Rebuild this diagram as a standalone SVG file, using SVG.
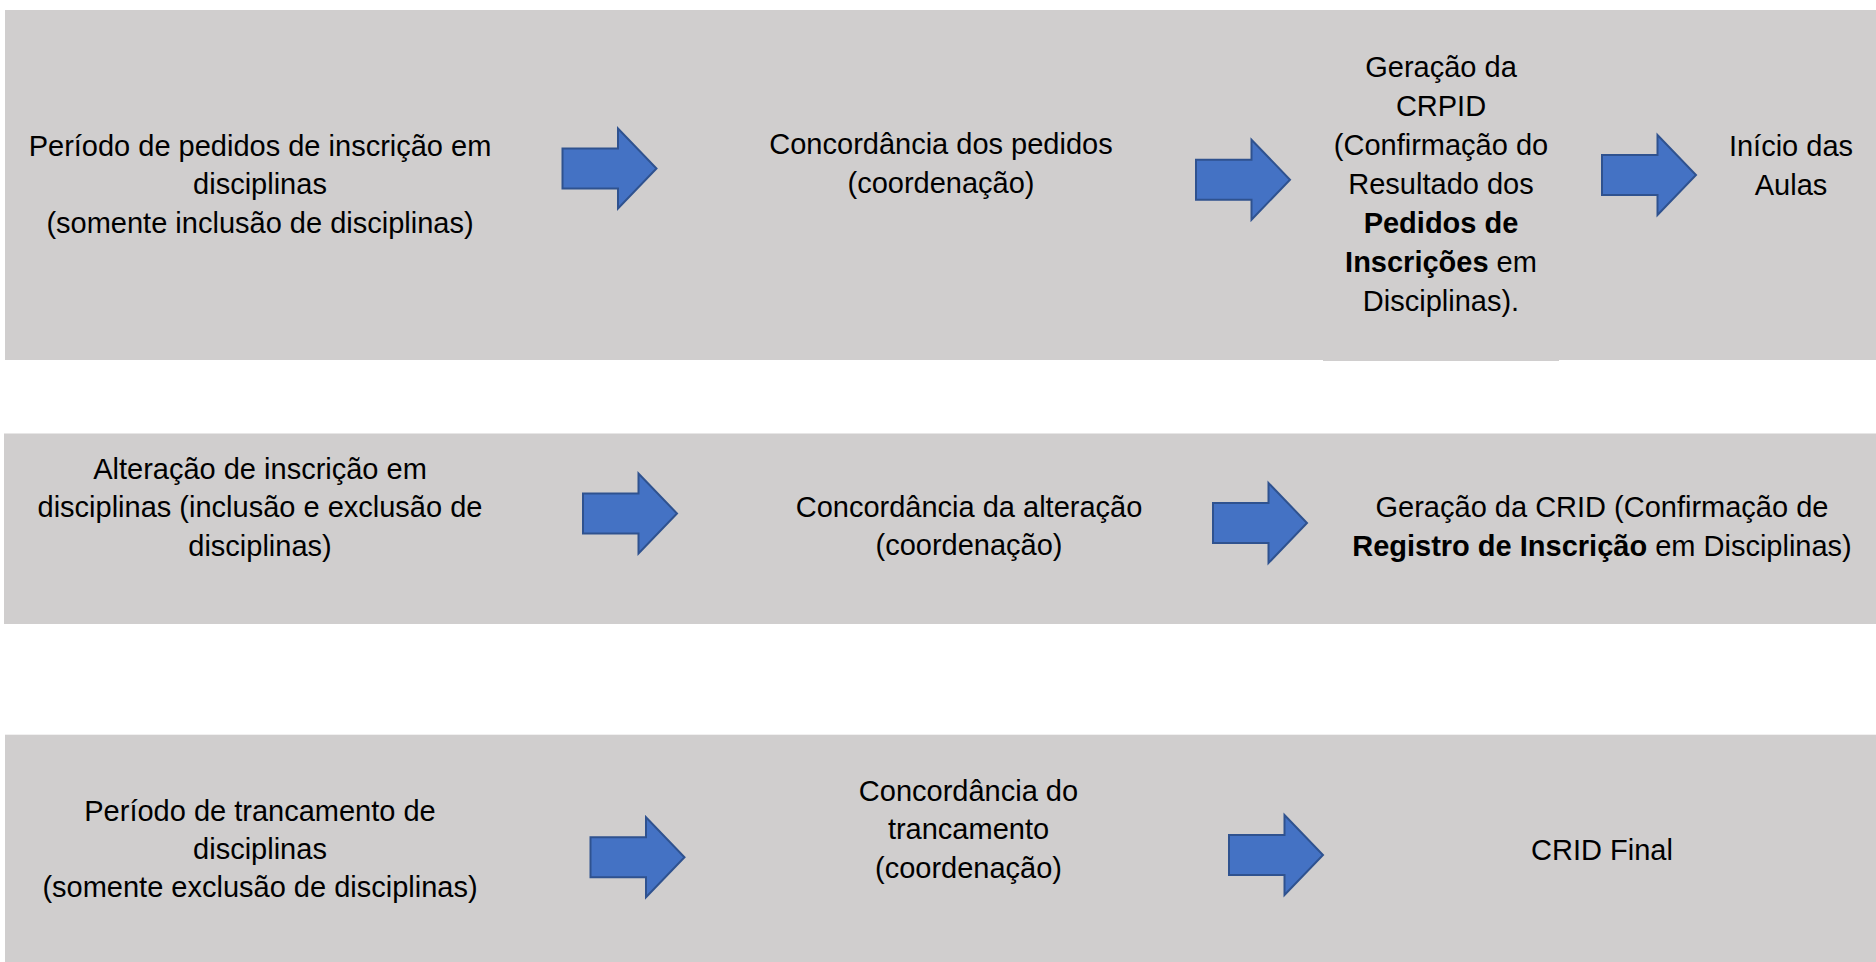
<svg xmlns="http://www.w3.org/2000/svg" width="1876" height="962" viewBox="0 0 1876 962">
<style>
.band{fill:#D0CECE}
.t{font-family:"Liberation Sans",Arial,sans-serif;font-size:29px;fill:#000;text-anchor:middle}
.b{font-weight:bold}
.arrow{fill:#4472C4;stroke:#2F528F;stroke-width:2;stroke-linejoin:miter}
</style>
<defs>
<path id="arr" d="M0,20 H55.5 V0 L94,40 L55.5,80 V60 H0 Z"/>
</defs>
<rect width="1876" height="962" fill="#FFFFFF"/>
<g id="bands">
<rect class="band" x="5" y="10" width="1871" height="350"/>
<rect class="band" x="4" y="433.5" width="1872" height="190.5"/>
<rect class="band" x="5" y="734.7" width="1871" height="227.3"/>
</g>
<g id="connectors">
<use href="#arr" class="arrow" transform="translate(562.5,128.5)"/>
<use href="#arr" class="arrow" transform="translate(1196,139.7)"/>
<use href="#arr" class="arrow" transform="translate(1602,135)"/>
<use href="#arr" class="arrow" transform="translate(583,473.5)"/>
<use href="#arr" class="arrow" transform="translate(1213,483)"/>
<use href="#arr" class="arrow" transform="translate(590.5,817.3)"/>
<use href="#arr" class="arrow" transform="translate(1229,815)"/>
</g>
<g id="n1">
<text class="t" x="260" y="155.6">Período de pedidos de inscrição em</text>
<text class="t" x="260" y="194">disciplinas</text>
<text class="t" x="260" y="232.5">(somente inclusão de disciplinas)</text>
</g>
<g id="n2">
<text class="t" x="941" y="154.3">Concordância dos pedidos</text>
<text class="t" x="941" y="192.7">(coordenação)</text>
</g>
<g id="n3">
<rect class="band" x="1323" y="12" width="236" height="349"/>
<text class="t" x="1441" y="77.4">Geração da</text>
<text class="t" x="1441" y="116.3">CRPID</text>
<text class="t" x="1441" y="155.2">(Confirmação do</text>
<text class="t" x="1441" y="194.1">Resultado dos</text>
<text class="t b" x="1441" y="233">Pedidos de</text>
<text class="t" x="1441" y="271.9"><tspan class="b">Inscrições</tspan> em</text>
<text class="t" x="1441" y="310.8">Disciplinas).</text>
</g>
<g id="n4">
<text class="t" x="1791" y="155.5">Início das</text>
<text class="t" x="1791" y="194.6">Aulas</text>
</g>
<g id="n5">
<text class="t" x="260" y="479">Alteração de inscrição em</text>
<text class="t" x="260" y="517.3">disciplinas (inclusão e exclusão de</text>
<text class="t" x="260" y="556">disciplinas)</text>
</g>
<g id="n6">
<text class="t" x="969" y="516.7">Concordância da alteração</text>
<text class="t" x="969" y="555">(coordenação)</text>
</g>
<g id="n7">
<text class="t" x="1602" y="517.3">Geração da CRID (Confirmação de</text>
<text class="t" x="1602" y="556"><tspan class="b">Registro de Inscrição</tspan> em Disciplinas)</text>
</g>
<g id="n8">
<text class="t" x="260" y="820.5">Período de trancamento de</text>
<text class="t" x="260" y="858.7">disciplinas</text>
<text class="t" x="260" y="897">(somente exclusão de disciplinas)</text>
</g>
<g id="n9">
<text class="t" x="968.5" y="800.7">Concordância do</text>
<text class="t" x="968.5" y="839.3">trancamento</text>
<text class="t" x="968.5" y="877.5">(coordenação)</text>
</g>
<g id="n10">
<text class="t" x="1602" y="860">CRID Final</text>
</g>
</svg>
